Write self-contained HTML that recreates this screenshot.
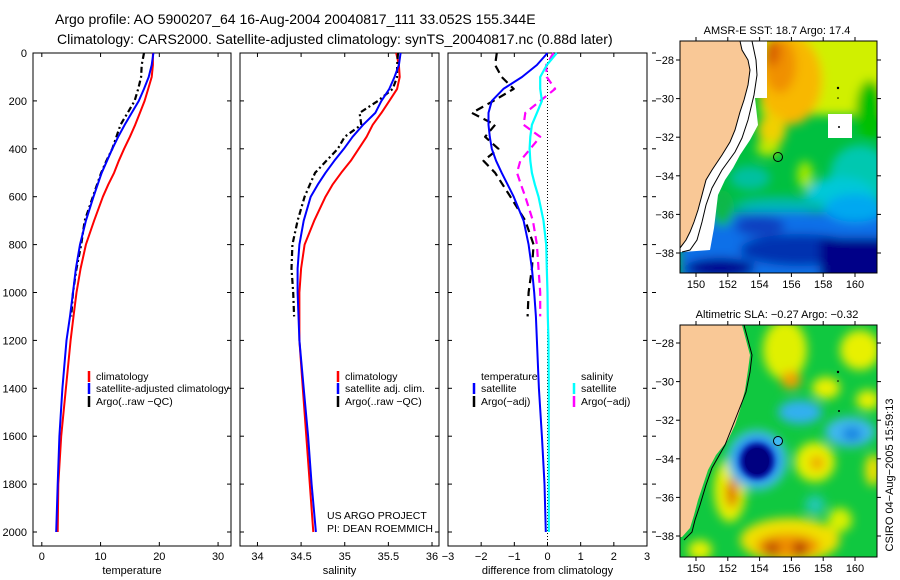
<!DOCTYPE html>
<html><head><meta charset="utf-8"><style>
html,body{margin:0;padding:0;background:#fff;}
svg{display:block;font-family:"Liberation Sans",sans-serif;}
</style></head><body>
<svg id="chart" width="900" height="580" viewBox="0 0 900 580" xmlns="http://www.w3.org/2000/svg">
<defs>
<filter id="bl" x="-50%" y="-50%" width="200%" height="200%"><feGaussianBlur stdDeviation="5"/></filter>
<filter id="bl2" x="-50%" y="-50%" width="200%" height="200%"><feGaussianBlur stdDeviation="3"/></filter>
<clipPath id="cm1"><rect x="680" y="41" width="197" height="232"/></clipPath>
<clipPath id="cm2"><rect x="680" y="325" width="197" height="232"/></clipPath>
</defs>
<text x="55" y="24" font-size="14">Argo profile: AO 5900207_64 16-Aug-2004 20040817_111 33.052S 155.344E</text>
<text x="57" y="44" font-size="14">Climatology: CARS2000. Satellite-adjusted climatology: synTS_20040817.nc (0.88d later)</text>

<!-- SST map -->
<g>
<text x="777" y="34" font-size="11" text-anchor="middle">AMSR-E SST: 18.7 Argo: 17.4</text>
<g clip-path="url(#cm1)">
<rect x="680" y="41" width="197" height="232" fill="#00c040"/>
<g filter="url(#bl)">
<rect x="760" y="30" width="130" height="85" fill="#d0f000"/>
<ellipse cx="790" cy="80" rx="32" ry="45" fill="#f8b800"/>
<ellipse cx="780" cy="65" rx="16" ry="28" fill="#f09000"/>
<ellipse cx="772" cy="52" rx="8" ry="14" fill="#d86000"/>
<ellipse cx="772" cy="130" rx="14" ry="16" fill="#f0d000"/>
<ellipse cx="768" cy="148" rx="12" ry="8" fill="#c0e800"/>
<ellipse cx="870" cy="110" rx="14" ry="30" fill="#00c000"/>
<ellipse cx="860" cy="175" rx="30" ry="30" fill="#00c8b0"/>
<ellipse cx="840" cy="195" rx="35" ry="18" fill="#00c8d8"/>
<ellipse cx="750" cy="178" rx="20" ry="12" fill="#00c0a0"/>
<ellipse cx="805" cy="175" rx="8" ry="14" fill="#a0e800"/>
<ellipse cx="780" cy="205" rx="45" ry="8" fill="#00b8b0"/>
<rect x="680" y="212" width="210" height="70" fill="#1070e8"/>
<ellipse cx="855" cy="208" rx="30" ry="14" fill="#00a8f0"/>
<ellipse cx="760" cy="226" rx="25" ry="10" fill="#1040c0"/>
<ellipse cx="800" cy="250" rx="60" ry="16" fill="#0030b0"/>
<rect x="820" y="238" width="70" height="45" fill="#000088"/>
<ellipse cx="720" cy="268" rx="35" ry="10" fill="#000090"/>
<ellipse cx="722" cy="208" rx="12" ry="18" fill="#10b848"/>
</g>
<polygon points="740,41 767,41 767,98 755,98 758,125 750,140 740,155 733,168 725,180 718,195 714,228 710,250 683,252 680,252 680,41" fill="#fff"/>
<rect x="828" y="114" width="24" height="24" fill="#fff"/>
<polygon points="680,41 740,41 742,50 748,60 750,70 748,85 744,100 740,112 735,130 730,142 722,155 712,170 706,180 702,195 698,210 694,222 690,232 686,240 680,248" fill="#f9c896" stroke="#000" stroke-width="1"/>
<polyline points="752,41 756,60 757,75 754,95 748,120 742,138 735,152 722,170 712,188 706,205 702,222 697,240 690,250 682,252" fill="none" stroke="#000" stroke-width="1"/>
<circle cx="838" cy="88" r="1.2" fill="#000"/><circle cx="838" cy="98" r="0.8" fill="#000"/><circle cx="839" cy="127" r="1" fill="#000"/>
<circle cx="778" cy="157" r="4.5" fill="none" stroke="#000" stroke-width="1"/>
</g>
<rect x="680" y="41" width="197" height="232" fill="none" stroke="#000"/>
</g>

<!-- SLA map -->
<g>
<text x="777" y="318" font-size="11" text-anchor="middle">Altimetric SLA: −0.27 Argo: −0.32</text>
<g clip-path="url(#cm2)">
<rect x="680" y="325" width="197" height="232" fill="#10c840"/>
<g filter="url(#bl)">
<ellipse cx="785" cy="350" rx="22" ry="30" fill="#e0f000"/>
<ellipse cx="791" cy="380" rx="10" ry="9" fill="#f0a000"/>
<ellipse cx="860" cy="350" rx="20" ry="20" fill="#e8f000"/>
<ellipse cx="826" cy="388" rx="14" ry="11" fill="#e8f000"/>
<ellipse cx="868" cy="400" rx="12" ry="10" fill="#e8f000"/>
<ellipse cx="815" cy="462" rx="20" ry="20" fill="#e8f000"/>
<ellipse cx="817" cy="463" rx="7" ry="7" fill="#f0a000"/>
<ellipse cx="730" cy="490" rx="16" ry="32" fill="#e8f000"/>
<ellipse cx="732" cy="493" rx="6" ry="15" fill="#e07000"/>
<ellipse cx="790" cy="540" rx="50" ry="22" fill="#f0e000"/>
<ellipse cx="788" cy="546" rx="32" ry="12" fill="#f09000"/>
<ellipse cx="772" cy="549" rx="8" ry="8" fill="#c05000"/>
<ellipse cx="800" cy="549" rx="7" ry="8" fill="#b03000"/>
<ellipse cx="873" cy="470" rx="8" ry="16" fill="#f0e000"/>
<ellipse cx="840" cy="520" rx="12" ry="12" fill="#d8f000"/>
<ellipse cx="700" cy="550" rx="12" ry="10" fill="#e8f000"/>
<ellipse cx="800" cy="412" rx="22" ry="12" fill="#30b0f0"/>
<ellipse cx="850" cy="432" rx="25" ry="15" fill="#40b8f0"/>
<ellipse cx="852" cy="434" rx="10" ry="7" fill="#1080e0"/>
<ellipse cx="757" cy="460" rx="30" ry="30" fill="#40c0f0"/>
<ellipse cx="757" cy="460" rx="22" ry="22" fill="#1060e0"/>
<ellipse cx="815" cy="505" rx="10" ry="10" fill="#20c8b0"/>
</g>
<ellipse cx="757" cy="461" rx="16" ry="17" fill="#000088" filter="url(#bl2)"/>
<ellipse cx="757" cy="461" rx="12" ry="13" fill="#000080"/>
<polygon points="680,325 742,325 746,340 750,355 748,370 745,390 740,410 735,425 728,440 716,455 708,470 703,485 698,500 694,515 690,528 682,537 680,537" fill="#f9c896"/>
<polyline points="744,325 748,340 752,355 750,372 746,392 735,420 725,445 712,468 706,485 700,505 695,520 692,532 684,540" fill="none" stroke="#000"/>
<circle cx="838" cy="372" r="1.2" fill="#000"/><circle cx="838" cy="381" r="0.8" fill="#000"/><circle cx="839" cy="411" r="1" fill="#000"/>
<circle cx="778" cy="441" r="4.5" fill="#40b8f0" stroke="#000"/>
</g>
<rect x="680" y="325" width="197" height="232" fill="none" stroke="#000"/>
</g>
<text transform="translate(893,475) rotate(-90)" font-size="11" text-anchor="middle">CSIRO 04−Aug−2005 15:59:13</text>
<text x="327" y="519" font-size="10.5">US ARGO PROJECT</text>
<text x="327" y="532" font-size="10.5" textLength="106" lengthAdjust="spacingAndGlyphs">PI: DEAN ROEMMICH</text>
<g id="dyn"></g>
</svg>
<script>
// depth levels (m)
const depths = [0,50,100,150,200,250,300,350,400,450,500,550,600,700,800,900,1000,1100,1200,1400,1600,1800,2000];
const argoDepths = [0,50,100,150,200,250,300,350,400,450,500,550,600,700,800,900,1000,1100];
// temperature panel
const tempClim = [18.9,18.9,18.7,18.1,17.5,16.7,15.9,15.0,14.0,13.1,12.3,11.3,10.4,8.9,7.5,6.6,5.9,5.4,4.9,4.1,3.3,2.8,2.7];
const tempSat  = [19.0,18.7,18.2,17.4,16.5,15.3,14.1,13.0,12.0,11.1,10.2,9.5,8.8,7.5,6.5,5.8,5.3,4.8,4.2,3.5,3.0,2.7,2.45];
const tempArgo = [17.4,17.0,16.9,16.4,15.8,14.6,13.4,12.7,12.0,11.0,10.1,9.4,8.7,7.3,6.7,5.9,5.3,5.0];
// salinity panel
const salClim = [35.59,35.62,35.63,35.60,35.51,35.42,35.32,35.25,35.16,35.07,34.96,34.86,34.78,34.65,34.54,34.50,34.48,34.48,34.48,34.52,34.56,34.60,34.64];
const salSat  = [35.64,35.62,35.57,35.51,35.42,35.35,35.21,35.09,34.99,34.88,34.78,34.69,34.61,34.53,34.48,34.46,34.46,34.47,34.48,34.53,34.58,34.62,34.67];
const salArgo = [35.61,35.60,35.60,35.55,35.38,35.17,35.19,35.00,34.92,34.79,34.66,34.60,34.54,34.46,34.40,34.39,34.41,34.42];
// difference panel
const dTempSat = [0,-0.32,-0.77,-1.33,-1.68,-1.78,-1.78,-1.74,-1.68,-1.55,-1.38,-1.20,-1.02,-0.72,-0.57,-0.47,-0.40,-0.35,-0.32,-0.26,-0.17,-0.09,-0.05];
const dSalSat  = [0.28,-0.02,-0.22,-0.22,-0.17,-0.32,-0.47,-0.52,-0.54,-0.52,-0.47,-0.38,-0.27,-0.12,-0.04,-0.02,0,0.01,0.03,0.04,0.04,0.04,0.04];
const dTempArgo = [-1.53,-1.58,-1.38,-1.02,-1.63,-2.28,-1.58,-1.88,-1.48,-1.93,-1.58,-1.35,-1.12,-0.67,-0.42,-0.47,-0.57,-0.60];
const dSalArgo  = [0.18,-0.04,-0.02,0.23,-0.22,-0.67,-0.72,-0.22,-0.52,-0.82,-0.92,-0.80,-0.67,-0.44,-0.32,-0.27,-0.22,-0.22];
// tick labels
const depthTicks = [0,200,400,600,800,1000,1200,1400,1600,1800,2000];
const tempTicks = [0,10,20,30];
const salTicks = [34,34.5,35,35.5,36];
const diffTicks = [-3,-2,-1,0,1,2,3];
const lonTicks = [150,152,154,156,158,160];
const latTicks = [-28,-30,-32,-34,-36,-38];

const NS='http://www.w3.org/2000/svg';
const root=document.getElementById('dyn');
function mk(tag,attrs,parent){const e=document.createElementNS(NS,tag);for(const k in attrs)e.setAttribute(k,attrs[k]);(parent||root).appendChild(e);return e;}
const Y0=53, Y1=546;
function yD(d){return 53+d*0.2395;}
const panels=[
 {name:'temperature',x0:33,x1:231,min:-1.5,max:32.2,ticks:tempTicks,label:'temperature'},
 {name:'salinity',x0:240,x1:439,min:33.8,max:36.08,ticks:salTicks,label:'salinity'},
 {name:'difference',x0:448,x1:647,min:-3,max:3,ticks:diffTicks,label:'difference from climatology'}
];
function xf(p){return v=>p.x0+(v-p.min)/(p.max-p.min)*(p.x1-p.x0);}
panels.forEach((p,i)=>{
 const g=mk('g',{});
 
 
 const fr=mk('rect',{x:p.x0,y:Y0,width:p.x1-p.x0,height:Y1-Y0,fill:'none',stroke:'#000','stroke-width':1},g);
 
 
 const X=xf(p);
 p.ticks.forEach(t=>{
  const x=X(t);
  mk('line',{x1:x,x2:x,y1:Y0,y2:Y0+4,stroke:'#000'},g);
  mk('line',{x1:x,x2:x,y1:Y1,y2:Y1-4,stroke:'#000'},g);
  const tx=mk('text',{x:x,y:560,'font-size':11,'text-anchor':'middle'},g);
  tx.textContent=(t<0?'−':'')+Math.abs(t);
  
  
 });
 depthTicks.forEach(d=>{
  const y=yD(d);
  mk('line',{x1:p.x0,x2:p.x0+4,y1:y,y2:y,stroke:'#000'},g);
  mk('line',{x1:p.x1,x2:p.x1-4,y1:y,y2:y,stroke:'#000'},g);
  if(i==2) mk('line',{x1:652,x2:656,y1:y,y2:y,stroke:'#000'},g);
  if(i==0){const t=mk('text',{x:27,y:y+4,'font-size':11,'text-anchor':'end'},g);t.textContent=d;
   
   }
 });
 const lt=mk('text',{x:(p.x0+p.x1)/2,y:574,'font-size':11,'text-anchor':'middle'},g);
 lt.textContent=p.label;
 
 
});
function line(p,vals,dep,color,dash,w,name){
 const X=xf(panels[p]);
 const pts=vals.map((v,i)=>X(v).toFixed(1)+','+yD(dep[i]).toFixed(1)).join(' ');
 const e=mk('polyline',{points:pts,fill:'none',stroke:color,'stroke-width':w,'stroke-dasharray':dash||'none','stroke-linejoin':'round'});
 
 
}
line(0,tempClim,depths,'#f00',null,2,'temp-climatology-line');
line(0,tempArgo,argoDepths,'#000','6,3,2,3',2.2,'temp-argo-line');
line(0,tempSat,depths,'#00f',null,2,'temp-satellite-line');
line(1,salClim,depths,'#f00',null,2,'sal-climatology-line');
line(1,salArgo,argoDepths,'#000','6,3,2,3',2.2,'sal-argo-line');
line(1,salSat,depths,'#00f',null,2,'sal-satellite-line');
const zx=xf(panels[2])(0);
const zl=mk('line',{x1:zx,x2:zx,y1:Y0,y2:Y1,stroke:'#000','stroke-dasharray':'1,2'});


line(2,dSalArgo,argoDepths,'#f0f','8,5',2.2,'diff-sal-argo-line');
line(2,dTempArgo,argoDepths,'#000','8,5',2.2,'diff-temp-argo-line');
line(2,dSalSat,depths,'#0ff',null,2.2,'diff-sal-satellite-line');
line(2,dTempSat,depths,'#00f',null,2,'diff-temp-satellite-line');
// legends
function leg(x,y,color,text,name,len){
 if(color){const b=mk('line',{x1:x,x2:x,y1:y-9,y2:y+2,stroke:color,'stroke-width':2.5});
  
  }
 const a={x:x+7,y:y,'font-size':10.5};
 if(len){a.textLength=len;a.lengthAdjust='spacingAndGlyphs';}
 const t=mk('text',a);t.textContent=text;
 
 
}
leg(89,380,'#f00','climatology','legend-entry-climatology');
leg(89,392,'#00f','satellite-adjusted climatology','legend-entry-satellite-adjusted',133);
leg(89,405,'#000','Argo(..raw −QC)','legend-entry-argo');
leg(338,380,'#f00','climatology','legend-entry-sal-climatology');
leg(338,392,'#00f','satellite adj. clim.','legend-entry-sal-satellite');
leg(338,405,'#000','Argo(..raw −QC)','legend-entry-sal-argo');
leg(474,380,null,'temperature','legend-header-temperature');
leg(474,392,'#00f','satellite','legend-entry-diff-temp-satellite');
leg(474,405,'#000','Argo(−adj)','legend-entry-diff-temp-argo');
leg(574,380,null,'salinity','legend-header-salinity');
leg(574,392,'#0ff','satellite','legend-entry-diff-sal-satellite');
leg(574,405,'#f0f','Argo(−adj)','legend-entry-diff-sal-argo');
// map axes
[[41,273],[325,557]].forEach((m,k)=>{
 lonTicks.forEach(l=>{
  const x=696+(l-150)*15.9;
  mk('line',{x1:x,x2:x,y1:m[0],y2:m[0]-4,stroke:'#000'});
  mk('line',{x1:x,x2:x,y1:m[1],y2:m[1]+4,stroke:'#000'});
  const t=mk('text',{x:x,y:m[1]+15,'font-size':11,'text-anchor':'middle'});t.textContent=l;
  
  
 });
 latTicks.forEach(l=>{
  const y=(k==0?60:343)+(-28-l)*19.3;
  mk('line',{x1:680,x2:676,y1:y,y2:y,stroke:'#000'});
  mk('line',{x1:877,x2:881,y1:y,y2:y,stroke:'#000'});
  const t=mk('text',{x:674,y:y+4,'font-size':11,'text-anchor':'end'});t.textContent='−'+Math.abs(l);
  
  
 });
});
</script>
</body></html>
